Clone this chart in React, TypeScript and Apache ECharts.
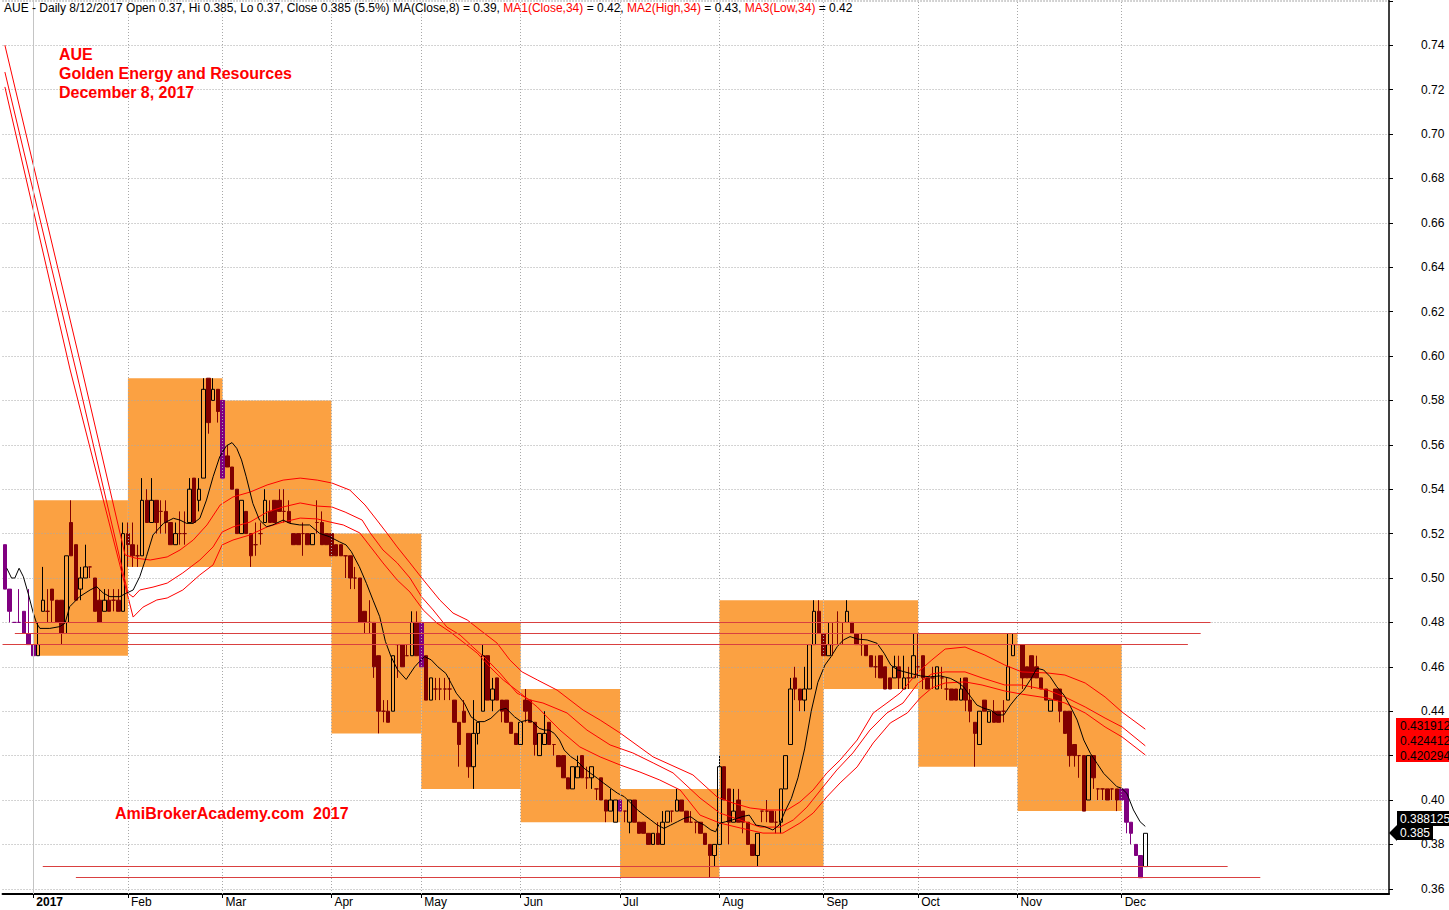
import React, { useEffect, useRef } from 'react';
import * as echarts from 'echarts';

const FONT = "'Liberation Sans', Arial, sans-serif";
const SLOTS = 293;
const MAROON = '#800000';
const PURPLE = '#800080';

const monthLabels = ['2017', 'Feb', 'Mar', 'Apr', 'May', 'Jun', 'Jul', 'Aug', 'Sep', 'Oct', 'Nov', 'Dec'];
const monthStart = [6, 26, 46, 69, 88, 109, 130, 151, 173, 193, 214, 236];

// daily bars: [open, high, low, close]
const bars: number[][] = [
  [.515,.515,.495,.495],[.495,.495,.48,.485],[.48,.48,.48,.48],[.48,.495,.48,.48],[.485,.485,.475,.475],[.475,.495,.47,.47],
  // Jan
  [.47,.47,.465,.465],[.465,.48,.465,.47],[.485,.505,.485,.49],[.485,.495,.48,.485],[.495,.495,.48,.49],[.49,.49,.48,.48],
  [.49,.49,.47,.475],[.48,.51,.475,.51],[.525,.535,.51,.51],[.515,.515,.49,.49],[.495,.505,.49,.50],[.50,.515,.50,.505],
  [.505,.505,.50,.505],[.50,.50,.485,.485],[.49,.495,.48,.48],[.485,.495,.485,.49],[.49,.495,.485,.485],[.49,.495,.485,.49],
  [.49,.495,.485,.485],[.485,.525,.485,.52],
  // Feb
  [.52,.525,.505,.515],[.515,.525,.505,.51],[.51,.515,.505,.51],[.51,.545,.51,.535],[.535,.54,.525,.525],[.525,.545,.525,.535],
  [.535,.535,.52,.525],[.53,.535,.52,.53],[.53,.535,.52,.525],[.525,.525,.515,.515],[.515,.525,.515,.52],[.52,.53,.515,.52],
  [.52,.53,.515,.52],[.525,.545,.525,.54],[.545,.545,.525,.525],[.535,.545,.53,.54],[.545,.59,.545,.585],[.59,.59,.565,.57],
  [.58,.59,.58,.585],[.585,.585,.57,.575],
  // Mar
  [.58,.58,.545,.545],[.555,.56,.55,.55],[.55,.55,.54,.54],[.54,.54,.52,.52],[.52,.535,.52,.535],[.53,.53,.52,.52],
  [.52,.52,.505,.51],[.515,.525,.51,.515],[.52,.525,.515,.52],[.525,.54,.525,.535],[.53,.535,.525,.525],[.535,.535,.525,.525],
  [.535,.54,.53,.53],[.53,.54,.525,.53],[.53,.535,.525,.525],[.52,.52,.515,.515],[.52,.52,.515,.515],[.52,.525,.51,.52],
  [.52,.52,.515,.515],[.515,.52,.515,.52],[.525,.535,.52,.525],[.525,.53,.515,.515],[.52,.52,.515,.515],
  // Apr
  [.52,.52,.51,.51],[.515,.515,.51,.51],[.515,.515,.51,.51],[.51,.51,.50,.51],[.51,.51,.495,.50],[.50,.505,.495,.50],
  [.50,.50,.48,.48],[.485,.485,.475,.48],[.48,.49,.475,.48],[.48,.48,.455,.46],[.465,.465,.43,.44],[.44,.445,.435,.44],
  [.44,.445,.435,.435],[.44,.465,.44,.465],[.47,.47,.455,.47],[.47,.47,.46,.46],[.465,.47,.465,.465],[.465,.485,.465,.48],
  [.48,.485,.465,.465],
  // May
  [.48,.48,.46,.46],[.465,.465,.445,.445],[.445,.455,.445,.455],[.45,.455,.445,.45],[.45,.455,.445,.45],[.45,.455,.445,.45],
  [.45,.455,.445,.45],[.445,.445,.435,.435],[.435,.435,.415,.425],[.44,.445,.435,.435],[.43,.43,.41,.415],[.415,.445,.405,.43],
  [.43,.435,.425,.435],[.44,.47,.44,.465],[.465,.465,.445,.445],[.445,.455,.44,.45],[.455,.455,.445,.445],[.445,.445,.435,.44],
  [.445,.445,.435,.435],[.435,.435,.43,.43],[.43,.43,.425,.425],
  // Jun
  [.425,.435,.425,.435],[.445,.45,.435,.44],[.445,.445,.435,.435],[.435,.435,.42,.425],[.42,.43,.42,.43],[.425,.44,.425,.43],
  [.435,.435,.425,.425],[.425,.425,.42,.425],[.42,.42,.415,.415],[.42,.42,.41,.41],[.41,.41,.405,.405],[.405,.415,.405,.415],
  [.41,.42,.41,.415],[.42,.42,.41,.41],[.41,.415,.405,.41],[.41,.415,.405,.415],[.405,.405,.40,.405],[.41,.41,.40,.40],
  [.40,.40,.39,.395],[.395,.405,.395,.40],[.39,.40,.39,.40],
  // Jul
  [.40,.40,.395,.395],[.395,.395,.39,.395],[.39,.40,.385,.40],[.40,.40,.39,.39],[.39,.39,.385,.385],[.39,.39,.385,.385],
  [.385,.385,.38,.38],[.38,.385,.38,.385],[.385,.39,.38,.38],[.38,.395,.38,.39],[.39,.395,.39,.395],[.395,.395,.39,.395],
  [.395,.405,.395,.40],[.40,.40,.395,.395],[.395,.395,.39,.39],[.39,.395,.39,.39],[.39,.39,.385,.39],[.39,.39,.385,.385],
  [.385,.385,.38,.38],[.38,.38,.365,.375],[.375,.38,.37,.38],
  // Aug
  [.38,.42,.38,.415],[.415,.415,.40,.40],[.405,.405,.38,.39],[.39,.405,.39,.395],[.40,.405,.39,.39],[.395,.395,.385,.39],
  [.39,.39,.38,.38],[.38,.38,.375,.375],[.375,.385,.37,.385],[.395,.395,.39,.395],[.395,.40,.39,.395],[.395,.395,.39,.39],
  [.39,.395,.385,.39],[.39,.405,.385,.405],[.405,.42,.405,.42],[.425,.455,.425,.45],[.455,.46,.445,.45],[.45,.45,.44,.445],
  [.445,.46,.44,.45],[.45,.47,.45,.47],[.47,.49,.47,.485],[.485,.49,.475,.475],
  // Sep
  [.475,.475,.465,.465],[.465,.48,.465,.47],[.47,.48,.465,.47],[.48,.485,.47,.48],[.475,.48,.47,.475],[.48,.49,.48,.485],
  [.48,.48,.475,.475],[.475,.475,.47,.47],[.47,.475,.465,.47],[.47,.47,.465,.465],[.465,.465,.46,.46],[.46,.465,.455,.46],
  [.465,.465,.455,.455],[.46,.46,.45,.45],[.455,.455,.45,.45],[.455,.465,.455,.46],[.46,.465,.45,.455],[.45,.465,.45,.455],
  [.455,.46,.45,.455],[.455,.475,.455,.465],
  // Oct
  [.46,.475,.455,.46],[.465,.465,.45,.455],[.455,.455,.45,.45],[.455,.46,.45,.455],[.45,.46,.45,.46],[.455,.46,.45,.455],
  [.45,.455,.445,.45],[.45,.45,.445,.445],[.45,.45,.445,.445],[.445,.455,.445,.45],[.455,.455,.44,.445],[.445,.45,.435,.44],
  [.435,.435,.415,.43],[.425,.44,.425,.44],[.445,.445,.44,.44],[.435,.44,.435,.44],[.44,.445,.435,.435],[.44,.44,.435,.435],
  [.44,.445,.435,.44],[.445,.475,.445,.46],[.465,.475,.465,.47],
  // Nov
  [.47,.47,.47,.47],[.47,.47,.45,.455],[.46,.46,.455,.455],[.465,.465,.45,.455],[.46,.465,.455,.455],[.455,.455,.45,.45],
  [.45,.45,.445,.445],[.44,.445,.44,.445],[.45,.45,.445,.445],[.45,.45,.435,.44],[.44,.44,.43,.43],[.44,.44,.415,.42],
  [.425,.425,.415,.42],[.42,.42,.41,.42],[.42,.42,.395,.395],[.40,.42,.40,.42],[.42,.42,.405,.41],[.405,.405,.40,.405],
  [.405,.405,.40,.405],[.405,.405,.40,.40],[.405,.405,.40,.405],[.405,.405,.395,.40],
  // Dec
  [.405,.405,.40,.40],[.405,.405,.385,.39],[.39,.39,.38,.385],[.38,.38,.375,.375],[.375,.375,.365,.365],[.37,.385,.37,.385],
];

const purpleBars = [0, 1, 2, 3, 4, 5, 6, 46, 88, 130, 214, 236, 237, 238, 239, 240];

// monthly high/low boxes
const boxStart = [6, 26, 46, 69, 88, 109, 130, 151, 173, 193, 214];
const boxEnd = [26, 46, 69, 88, 109, 130, 151, 173, 193, 214, 236];
const boxLow = [.465, .505, .505, .43, .405, .39, .365, .37, .45, .415, .395];
const boxHigh = [.535, .59, .58, .52, .48, .45, .405, .49, .49, .475, .47];

// moving averages: [bar index, value]
const ma8: number[][] = [
  [0.4,.5044],[1.4,.50],[2.1,.50],[3,.5044],[3.9,.5006],[4.9,.4932],[6,.4842],[6.7,.4796],[7.4,.4773],[9.5,.4773],[11.6,.4781],
  [12.7,.4796],[13.7,.4871],[15.8,.4916],[18,.4946],[19.4,.4961],[20.8,.4932],[22.2,.4916],[24.3,.4916],[25.7,.4932],[27.1,.4946],
  [28.5,.5006],[29.9,.5096],[31.3,.5194],[33.5,.5246],[35.6,.5269],[37,.5261],[38.4,.5246],[39.8,.5246],[41.2,.5269],[42.6,.5351],
  [44,.5456],[45.4,.5546],[46.8,.5595],[48,.561],[49,.5584],[50,.5532],[51,.5456],[52.4,.5336],[53.8,.5261],[55.3,.5231],
  [56.6,.5239],[58.8,.5261],[60.2,.5246],[62.3,.5239],[64.4,.5239],[66.5,.5201],[68.6,.5186],[70.7,.5163],[72.1,.5149],[73.2,.5119],
  [74.9,.5051],[76.4,.4976],[77.8,.49],[79.2,.4826],[80.4,.4715],[81.6,.4646],[83,.4586],[84.8,.4543],[86.6,.46],[87.6,.4623],
  [88.7,.4646],[90.1,.4631],[91.5,.46],[93.2,.457],[94.3,.4526],[95.4,.4481],[97.1,.4436],[98.5,.4375],[99.9,.4353],[101.3,.4353],
  [102.7,.4368],[104.5,.4405],[105.9,.4413],[107.7,.4375],[109.1,.4353],[110.5,.436],[111.5,.4353],[112.9,.4323],[114,.4315],
  [115,.4315],[116.1,.43],[117.2,.427],[118.2,.4225],[119.6,.4195],[120.7,.418],[122.4,.4143],[123.8,.412],[125.2,.4098],
  [126.6,.4075],[128,.4053],[129.5,.403],[130.9,.4015],[132.3,.3985],[133.7,.3955],[135.1,.3932],[136.5,.391],[137.9,.3887],
  [139.3,.3872],[140.7,.3887],[142.1,.3902],[143.5,.3917],[144.9,.3925],[146.4,.3902],[147.8,.3887],[149.2,.3865],[150.2,.3857],
  [151,.3895],[152.3,.3902],[153.7,.391],[155.8,.3925],[157.3,.3932],[158.7,.3887],[160.6,.388],[162.3,.3865],[163.6,.3887],
  [165,.3955],[166.2,.4007],[167.6,.41],[169,.423],[170.4,.44],[171.8,.453],[173.3,.4608],[174.6,.4646],[175.9,.4691],
  [177.2,.4721],[178.6,.4736],[180.2,.4725],[182.2,.4721],[184.3,.4706],[185.8,.4661],[187.2,.4608],[188.6,.4586],[190,.4578],
  [191.4,.457],[193.5,.4559],[195.6,.4555],[197.7,.4559],[199.8,.4548],[201.2,.4532],[202.6,.451],[204.1,.4465],[205.4,.4428],
  [206.9,.4413],[208.3,.4405],[209.7,.4383],[211.1,.4383],[212.5,.4428],[213.9,.4465],[215.3,.4495],[216.7,.4541],[218.1,.4593],
  [219.5,.4586],[220.9,.4555],[222.3,.451],[223.8,.4473],[225.2,.442],[226.6,.436],[228,.427],[229.4,.421],[230.8,.4165],
  [232.2,.412],[233.6,.409],[235,.406],[236,.4053],[237.1,.403],[238.5,.3955],[239.9,.3902],[241,.3881],
];
const maHigh34: number[][] = [
  [0,.740],[16.3,.5937],[25.4,.5104],[27.5,.509],[30.7,.5081],[34.3,.5095],[37,.5126],[39.8,.5171],[42.7,.5239],[45.5,.5329],
  [48.2,.5365],[51.8,.5387],[55.4,.5419],[58.8,.5441],[62.4,.545],[66,.5441],[69.1,.5428],[72.9,.5396],[76.1,.5329],[78.6,.5261],
  [80.7,.5203],[82.9,.514],[85.6,.5068],[88.1,.50],[91.9,.4901],[94.7,.4842],[97.7,.4811],[100.4,.4766],[104,.4707],[106.7,.4631],
  [109.3,.4577],[112.5,.4541],[116.7,.4495],[122.2,.4405],[125.8,.436],[130,.4302],[137,.4194],[145.4,.4113],[150.5,.4014],
  [153.9,.3986],[157.5,.3964],[161.1,.3955],[165.3,.3955],[168,.3991],[170.8,.4045],[173.7,.4122],[176.5,.418],[180.1,.427],
  [183.5,.4392],[186.4,.4437],[189.2,.4482],[193,.4577],[195.9,.4631],[198.7,.468],[202.9,.4689],[207.1,.4653],[211.3,.4608],
  [214.9,.4577],[220.4,.4572],[224,.4563],[228.3,.4527],[232.5,.4464],[236.1,.4396],[241,.4319],
];
const maClose34: number[][] = [
  [0,.7279],[15,.5937],[26,.4932],[27.1,.4914],[28.5,.4946],[31.3,.4959],[34.3,.4977],[37.6,.5023],[41.2,.5081],[44,.514],
  [45.9,.5207],[48.2,.523],[51.8,.5252],[55.4,.5297],[58.8,.532],[62.4,.5338],[66,.5324],[69.1,.532],[71.9,.5297],[75.5,.5261],
  [77.2,.5203],[79.9,.5126],[82.9,.5068],[85.6,.50],[88.1,.4914],[90.5,.4856],[93.4,.4779],[96.2,.4743],[98.9,.4689],[101.9,.4631],
  [104.6,.4572],[108.2,.4482],[111,.445],[113.7,.4437],[118.8,.4392],[123,.4315],[127.9,.4248],[132.7,.4212],[137,.4167],
  [141.2,.4122],[146.9,.4009],[151.1,.3941],[155.4,.391],[159.6,.3878],[163.8,.3878],[166.6,.391],[169.5,.3968],[172.9,.4059],
  [175.8,.4135],[179.2,.4212],[182.8,.4315],[186.4,.4392],[189.8,.4437],[193,.4527],[195.9,.4568],[198.7,.4577],[202.9,.4577],
  [206.5,.455],[211.3,.4518],[214.9,.4518],[220.4,.4495],[224,.4464],[228.3,.4419],[232.5,.4369],[236.1,.4329],[241,.4244],
];
const maLow34: number[][] = [
  [0,.7212],[13.8,.5937],[27.1,.4824],[29.2,.4869],[32.1,.4901],[34.3,.491],[37.6,.4946],[41.2,.5014],[44,.5059],[45.9,.5149],
  [48.2,.5171],[51.8,.5194],[55.4,.523],[58.8,.5252],[62.4,.527],[66,.5266],[68.7,.5252],[71.5,.5239],[75,.5203],[77.8,.5126],
  [79.9,.5068],[82.9,.4991],[85.6,.4937],[88.4,.4856],[91.3,.4797],[94.1,.4757],[96.8,.4712],[99.8,.4662],[102.5,.4599],
  [105.3,.4541],[108.9,.4482],[112.5,.4419],[117.3,.4315],[121.5,.4239],[125.8,.4194],[130,.4158],[134.2,.4126],[138.4,.409],
  [142.7,.4045],[146.9,.3932],[151.1,.3896],[155.4,.3874],[160.2,.3851],[164.4,.3851],[168,.3896],[170.8,.3941],[173.7,.4014],
  [176.5,.4077],[180.1,.4149],[183.5,.4257],[187.1,.4347],[190.7,.4392],[193.4,.4459],[195.9,.4505],[198.7,.4527],[202.9,.4532],
  [206.5,.4518],[211.3,.4491],[214.9,.4477],[220.4,.4459],[224,.4437],[228.3,.4392],[232.5,.4329],[236.1,.4284],[241,.4203],
];

// horizontal support / resistance lines
const levelValue = [0.48, 0.475, 0.47, 0.37, 0.365];
const levelFrom = [4.2, 2.1, -0.5, 8.0, 15.0];
const levelTo = [254.8, 252.7, 250.0, 258.4, 265.3];

const lastMA34 = [0.431912, 0.424412, 0.420294]; // High, Close, Low
const lastMA8 = 0.388125;
// axis tick values hidden behind the value tags on the right in the reference
const hiddenTicks = ['0.42'];

const PX_PER_BAR = 4.732;
const FIRST_CENTER = 4.9;

function buildOption() {
  const startSet = new Set(monthStart);
  const cats = Array.from({ length: SLOTS }, (_, i) => String(i));
  const purple = new Set(purpleBars);

  const candleData = bars.map(([o, h, l, c], i) => {
    const base = purple.has(i) ? PURPLE : MAROON;
    const item: any = { value: [o, c, l, h] };
    if (o === c) {
      item.itemStyle = { color: base, color0: base, borderColor: base, borderColor0: base, borderColorDoji: base };
    } else if (purple.has(i)) {
      item.itemStyle = { color0: PURPLE, borderColor0: PURPLE };
    }
    return item;
  });

  const last = bars[bars.length - 1];
  const prev = bars[bars.length - 2];
  const pct = ((last[3] / prev[3] - 1) * 100).toFixed(1);
  const f2 = (v: number) => v.toFixed(2);
  const titleText =
    `{k|AUE - Daily 8/12/2017 Open ${last[0]}, Hi ${last[1]}, Lo ${last[2]}, Close ${last[3]} (${pct}%) MA(Close,8) = ${f2(lastMA8)}, }` +
    `{r|MA1(Close,34)}{k| = ${f2(lastMA34[1])}, }{r|MA2(High,34)}{k| = ${f2(lastMA34[0])}, }{r|MA3(Low,34)}{k| = ${f2(lastMA34[2])}}`;

  const gridLeft = FIRST_CENTER - PX_PER_BAR / 2;
  const gridWidth = SLOTS * PX_PER_BAR;

  const lineBase = {
    type: 'line',
    xAxisIndex: 1,
    yAxisIndex: 0,
    symbol: 'none',
    showSymbol: false,
    silent: true,
    z: 4,
  };

  return {
    animation: false,
    backgroundColor: '#ffffff',
    grid: { left: gridLeft, top: 0, width: gridWidth, height: 894, containLabel: false },
    xAxis: [
      {
        type: 'category',
        data: cats,
        boundaryGap: true,
        axisLine: { show: true, onZero: false, lineStyle: { color: '#000', width: 2 } },
        axisTick: {
          show: true,
          alignWithLabel: true,
          interval: (i: number) => startSet.has(i),
          length: 4,
          lineStyle: { color: '#000', width: 1 },
        },
        axisLabel: {
          interval: (i: number) => startSet.has(i),
          formatter: (_v: string, i: number) => {
            const k = monthStart.indexOf(i);
            if (k < 0) return '';
            return k === 0 ? `{b|${monthLabels[k]}}` : monthLabels[k];
          },
          align: 'left',
          padding: [0, 0, 0, 3],
          margin: 2,
          fontSize: 12,
          fontFamily: FONT,
          color: '#000',
          rich: { b: { fontWeight: 'bold', fontSize: 12, fontFamily: FONT, color: '#000' } },
        },
        splitLine: { show: false },
      },
      { type: 'value', min: -0.5, max: SLOTS - 0.5, show: false, axisLine: { onZero: false } },
    ],
    yAxis: {
      type: 'value',
      position: 'right',
      min: 0.35766,
      max: 0.76036,
      splitNumber: 20,
      axisLine: { show: true, onZero: false, lineStyle: { color: '#000', width: 1.5 } },
      axisTick: { show: true, length: 4, lineStyle: { color: '#000' } },
      axisLabel: {
        margin: 32,
        fontSize: 12,
        fontFamily: FONT,
        color: '#000',
        showMinLabel: false,
        showMaxLabel: false,
        formatter: (v: number) => {
          if (!(v > 0.3595 && v < 0.7405)) return '';
          const s = v.toFixed(2);
          return hiddenTicks.includes(s) ? '' : s;
        },
      },
      splitLine: { show: true, lineStyle: { color: '#a8a8a8', type: [1, 2], width: 1 } },
    },
    series: [
      {
        type: 'custom',
        name: 'monthBoxes',
        xAxisIndex: 0,
        yAxisIndex: 0,
        z: -1,
        silent: true,
        data: boxStart.map((s, i) => [s, boxEnd[i], boxLow[i], boxHigh[i]]),
        encode: { x: [0, 1], y: [2, 3] },
        renderItem: (_p: any, api: any) => {
          const p1 = api.coord([api.value(0), api.value(3)]);
          const p2 = api.coord([api.value(1), api.value(2)]);
          return {
            type: 'rect',
            shape: { x: p1[0], y: p1[1], width: p2[0] - p1[0], height: p2[1] - p1[1] },
            style: { fill: '#FBA142' },
          };
        },
      },
      {
        type: 'line',
        name: 'monthGrid',
        xAxisIndex: 1,
        yAxisIndex: 0,
        data: [],
        z: 0,
        silent: true,
        markLine: {
          silent: true,
          symbol: ['none', 'none'],
          label: { show: false },
          animation: false,
          data: monthStart.map((g, i) => ({
            xAxis: g,
            lineStyle: i === 0
              ? { type: 'solid', color: '#c4c4c4', width: 1 }
              : { type: [1, 2], color: '#a8a8a8', width: 1 },
          })),
        },
      },
      {
        type: 'candlestick',
        name: 'AUE',
        xAxisIndex: 0,
        yAxisIndex: 0,
        barWidth: 4,
        z: 3,
        silent: true,
        itemStyle: {
          color: 'rgba(0,0,0,0)',
          color0: MAROON,
          borderColor: '#000',
          borderColor0: MAROON,
          borderColorDoji: MAROON,
          borderWidth: 1,
        },
        data: candleData,
      },
      { ...lineBase, name: 'MA2(High,34)', data: maHigh34, lineStyle: { color: '#ff0000', width: 1 } },
      { ...lineBase, name: 'MA1(Close,34)', data: maClose34, lineStyle: { color: '#ff0000', width: 1 } },
      { ...lineBase, name: 'MA3(Low,34)', data: maLow34, lineStyle: { color: '#ff0000', width: 1 } },
      { ...lineBase, name: 'MA(Close,8)', data: ma8, lineStyle: { color: '#000000', width: 1 } },
      {
        type: 'line',
        name: 'levels',
        xAxisIndex: 1,
        yAxisIndex: 0,
        data: [],
        z: 5,
        silent: true,
        markLine: {
          silent: true,
          symbol: ['none', 'none'],
          label: { show: false },
          animation: false,
          lineStyle: { color: '#d94040', width: 1, type: 'solid' },
          data: levelValue.map((v, i) => [{ coord: [levelFrom[i], v] }, { coord: [levelTo[i], v] }]),
        },
      },
    ],
    graphic: [
      {
        type: 'text',
        x: 4,
        y: 8,
        z: 100,
        style: {
          text: titleText,
          verticalAlign: 'middle',
          align: 'left',
          font: `12px ${FONT}`,
          rich: {
            k: { fill: '#000', color: '#000', fontSize: 12, fontFamily: FONT },
            r: { fill: '#ff0000', color: '#ff0000', fontSize: 12, fontFamily: FONT },
          },
        },
      },
      {
        type: 'text',
        x: 59,
        y: 44.5,
        z: 100,
        style: {
          text: 'AUE\nGolden Energy and Resources\nDecember 8, 2017',
          fill: '#ff0000',
          font: `bold 16px ${FONT}`,
          lineHeight: 19,
          align: 'left',
          verticalAlign: 'top',
        },
      },
      {
        type: 'text',
        x: 115,
        y: 813,
        z: 100,
        style: {
          text: 'AmiBrokerAcademy.com\u00a0\u00a02017',
          fill: '#ff0000',
          font: `bold 16px ${FONT}`,
          align: 'left',
          verticalAlign: 'middle',
        },
      },
      { type: 'rect', z: 100, shape: { x: 1396, y: 718, width: 53, height: 44 }, style: { fill: '#ff0000' } },
      ...lastMA34.map((v, i) => ({
        type: 'text',
        x: 1400,
        y: 725.5 + i * 15,
        z: 101,
        style: { text: v.toFixed(6), fill: '#000', font: `12px ${FONT}`, align: 'left', verticalAlign: 'middle' },
      })),
      { type: 'rect', z: 100, shape: { x: 1397, y: 811, width: 52, height: 15 }, style: { fill: '#000' } },
      { type: 'rect', z: 100, shape: { x: 1397, y: 826, width: 36, height: 14 }, style: { fill: '#000' } },
      { type: 'polygon', z: 100, shape: { points: [[1389, 833], [1397, 825], [1397, 841]] }, style: { fill: '#000' } },
      {
        type: 'text', x: 1400, y: 818.5, z: 101,
        style: { text: String(lastMA8), fill: '#fff', font: `12px ${FONT}`, align: 'left', verticalAlign: 'middle' },
      },
      {
        type: 'text', x: 1400, y: 833, z: 101,
        style: { text: String(last[3]), fill: '#fff', font: `12px ${FONT}`, align: 'left', verticalAlign: 'middle' },
      },
    ],
  };
}

export default function App() {
  const ref = useRef<HTMLDivElement>(null);
  useEffect(() => {
    if (!ref.current) return;
    const chart = echarts.init(ref.current, null, { renderer: 'svg' });
    chart.setOption(buildOption() as any);
    return () => chart.dispose();
  }, []);
  return (
    <div
      ref={ref}
      style={{ position: 'absolute', left: 0, top: 0, width: 1449, height: 910, background: '#fff' }}
    />
  );
}
